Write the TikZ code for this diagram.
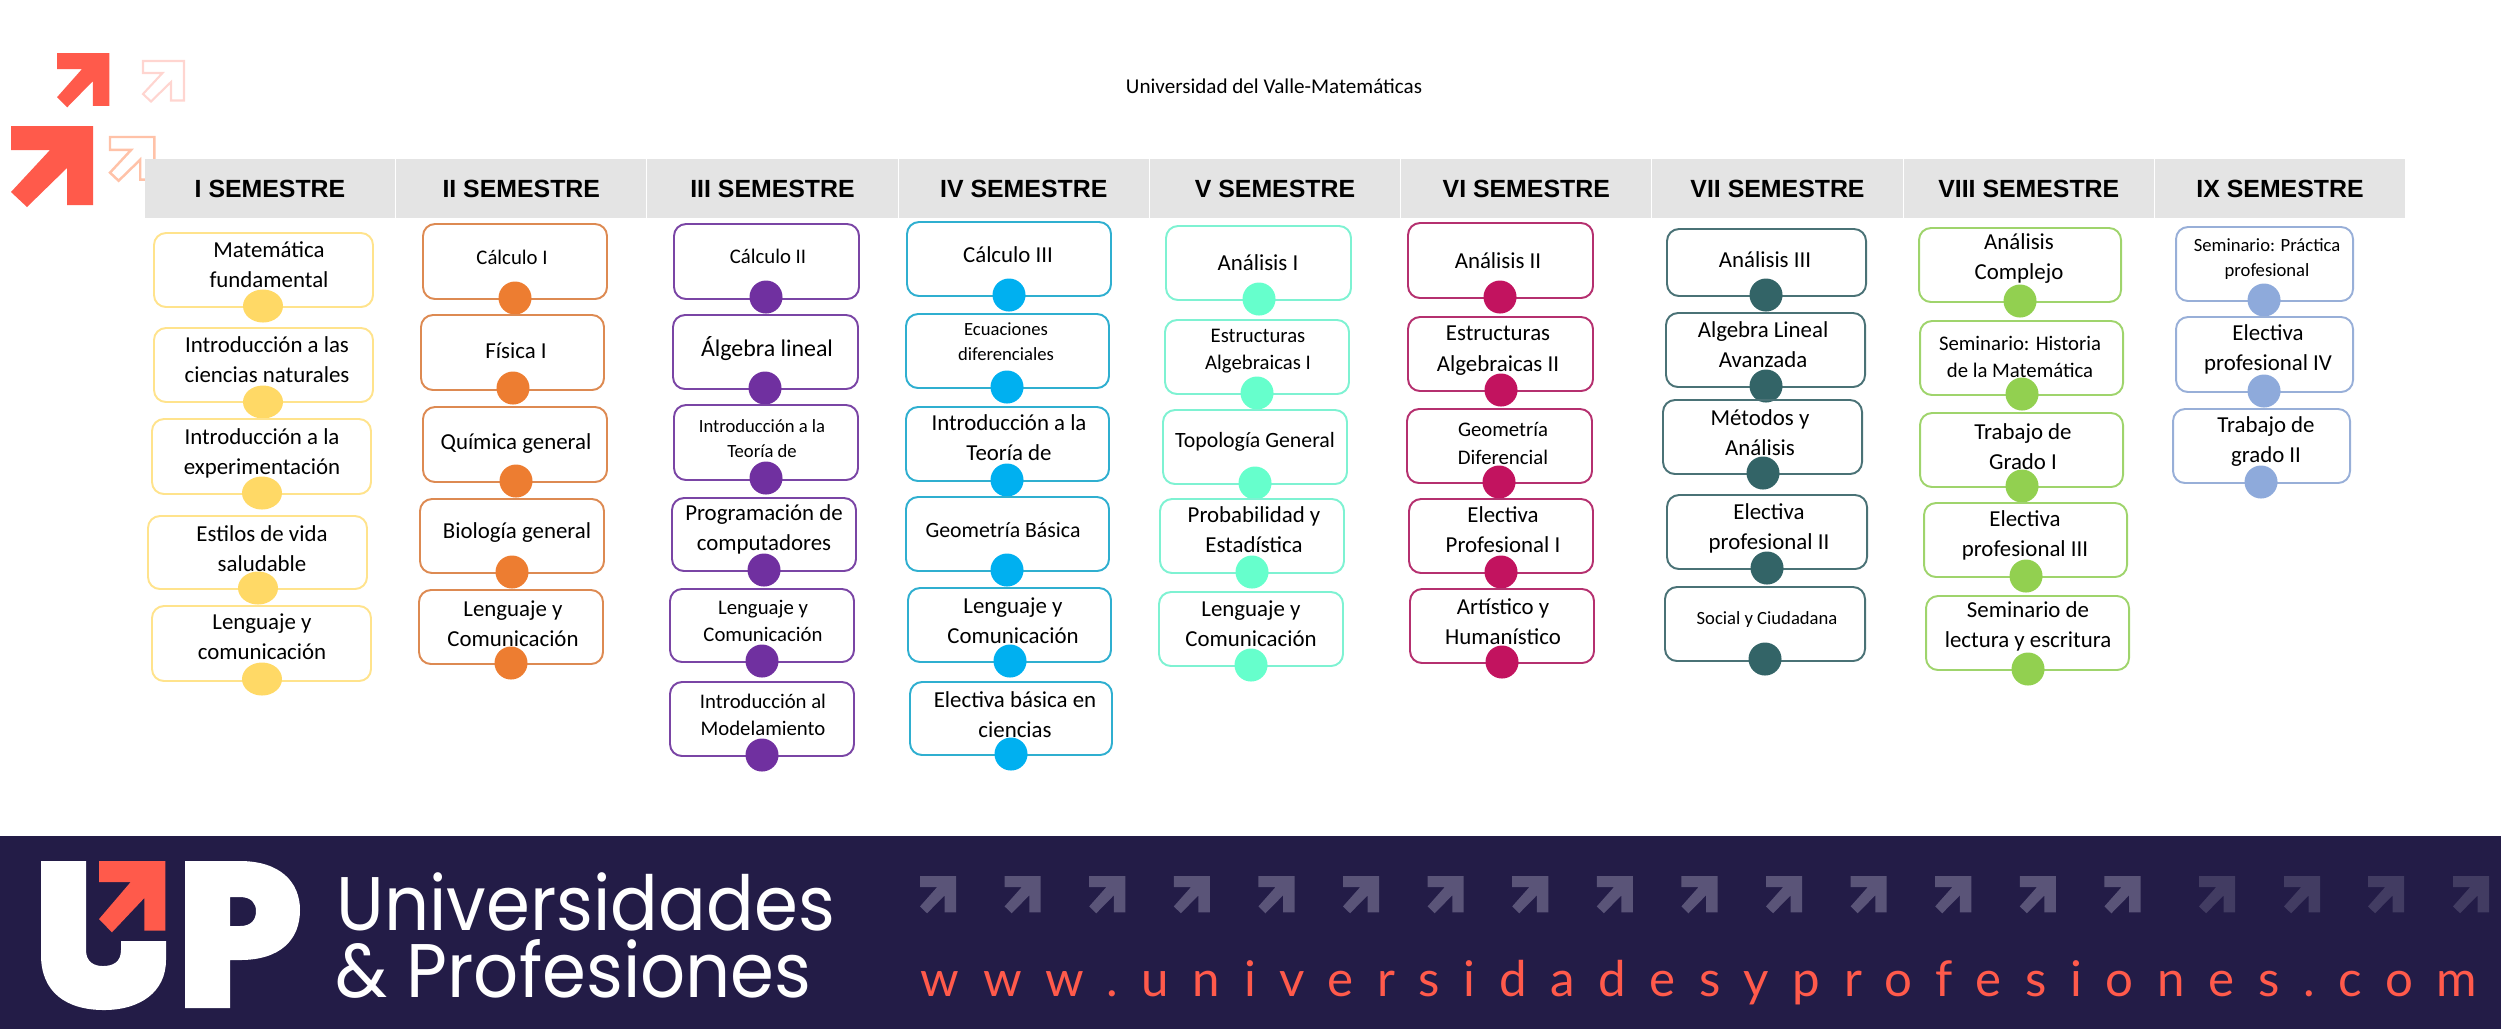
\documentclass[tikz,border=0pt]{standalone}
\usepackage{fontspec}
\setmainfont{Carlito}
\newfontfamily\arialfont{Liberation Sans}
\newfontfamily\logofont{Poppins}
\newfontfamily\webfont[LetterSpace=48]{Lato}
\usetikzlibrary{shapes.geometric}

\definecolor{upnavy}{HTML}{231C47}
\definecolor{upcoral}{HTML}{FF5A4B}
\definecolor{flechaclara}{HTML}{5A5478}
\definecolor{flechaoscura}{HTML}{423C62}
\definecolor{cabecera}{HTML}{E4E4E4}
\definecolor{rosado}{HTML}{FFD5D0}
\definecolor{salmon}{HTML}{FFC2A8}
\definecolor{amarillo}{HTML}{FFD966}
\definecolor{amarillob}{HTML}{FFE38C}
\definecolor{naranja}{HTML}{ED7D31}
\definecolor{naranjab}{HTML}{DD8A52}
\definecolor{morado}{HTML}{7030A0}
\definecolor{moradob}{HTML}{7A45A5}
\definecolor{celeste}{HTML}{00B0F0}
\definecolor{celesteb}{HTML}{2FAFD0}
\definecolor{menta}{HTML}{66FFCC}
\definecolor{mentab}{HTML}{7EF2D2}
\definecolor{fucsia}{HTML}{C2135F}
\definecolor{fucsiab}{HTML}{B5306F}
\definecolor{petroleo}{HTML}{336467}
\definecolor{petroleob}{HTML}{4A7276}
\definecolor{verde}{HTML}{92D050}
\definecolor{verdeb}{HTML}{9FD46C}
\definecolor{azul}{HTML}{8EAADB}
\definecolor{azulb}{HTML}{98AFD8}

\tikzset{
	caja/.style={rectangle,rounded corners=3.4pt,line width=0.55pt,inner sep=0pt,outer sep=0pt},
	punto/.style={ellipse,inner sep=0pt,outer sep=0pt,minimum height=0.33cm},
	txtg/.style={align=center,inner sep=0pt,yshift=-0.015cm,font=\fontsize{6.5}{8.7}\selectfont},
	txtm/.style={align=center,inner sep=0pt,yshift=-0.015cm,font=\fontsize{5.9}{7.7}\selectfont},
	txts/.style={align=center,inner sep=0pt,yshift=-0.015cm,font=\fontsize{5.3}{7.1}\selectfont},
	txta/.style={align=center,inner sep=0pt,yshift=-0.015cm,font=\fontsize{6.8}{8.7}\selectfont},
	txtb/.style={align=center,inner sep=0pt,yshift=-0.015cm,font=\fontsize{6.2}{8}\selectfont},
	semestre/.style={fill=cabecera,inner sep=0pt,minimum width=2.5cm,minimum height=0.59cm,
		font=\arialfont\bfseries\fontsize{7.07}{8.5}\selectfont},
	logotxt/.style={anchor=base west,inner sep=0pt,white,xscale=0.93,font=\logofont\fontsize{21.6}{24}\selectfont},
	flecha/.pic={\path[pic actions] (0,0) -- (82,0) -- (82,79) -- (56,79) -- (56,42) -- (16,81) -- (0,66) -- (39,24) -- (0,24) -- cycle;}
}

% name, colour, dot width, list of courses
\newcommand*{\materias}[4]{
	\foreach \n/\xa/\ya/\xb/\yb/\dx/\dy/\tx/\ty/\fs/\txt in {#4} {
		\node[caja,draw=#2b,minimum width={(\xb-\xa)*0.01cm},minimum height={(\yb-\ya)*0.01cm}] (#1c\n) at ({(\xa+\xb)/2},{(\ya+\yb)/2}) {};
		\node[\fs] (#1t\n) at (\tx,\ty) {\txt};
		\node[punto,fill=#2,minimum width=#3] (#1p\n) at (\dx,\dy) {};
	}
}

\begin{document}
\begin{tikzpicture}[x=0.01cm,y=-0.01cm]

	\useasboundingbox (0,0) rectangle (2501,1029);

	% corner arrows
	\pic[fill=upcoral] at (11,126) {flecha};
	\pic[fill=upcoral,xscale=0.64,yscale=0.67] at (57,53) {flecha};
	\pic[draw=rosado,line width=0.6pt,scale=0.5] at (143,61) {flecha};
	\pic[draw=salmon,line width=0.7pt,scale=0.54] at (110,137) {flecha};

	\node[font=\fontsize{6}{8}\selectfont] (titulo) at (1274,86) {Universidad del Valle-Matemáticas};

	% header row
	\foreach \i/\lab in {0/I,1/II,2/III,3/IV,4/V,5/VI,6/VII,7/VIII,8/IX}
		\node[semestre] (sem\i) at ({270+251.25*\i},188.5) {\lab{} SEMESTRE};

	% I
	\materias{a}{amarillo}{0.4cm}{
		1/154/233/373/307/263/306/269/263/txtg/{Matemática\\fundamental},
		2/154/328/373/402/263/402/267/358/txtg/{Introducción a las\\ciencias naturales},
		3/152/419/371/494/262/493/262/452/txtg/{Introducción a la\\experimentación},
		4/148/516/367/589/258/588/262/547/txtg/{Estilos de vida\\saludable},
		5/152/606/371/681/262/679/262/635/txtg/{Lenguaje y\\comunicación}}

	% II
	\materias{b}{naranja}{0.33cm}{
		1/423/224/607/299/515/298/512/256/txtm/{Cálculo I},
		2/421/315/604/390/513/388/516/349/txtg/{Física I},
		3/423/407/607/482/516/481/516/442/txtg/{Química general},
		4/420/499/604/573/512/572/517/531/txtg/{Biología general},
		5/419/590/603/664/511/663/513/622/txtg/{Lenguaje y\\Comunicación}}

	% III
	\materias{c}{morado}{0.33cm}{
		1/674/224/859/299/766/297/768/255/txtm/{Cálculo II},
		2/673/315/858/389/765/388/767/347/txta/{Álgebra lineal},
		3/674/405/858/480/766/478/762/437/txts/{Introducción a la\\Teoría de},
		4/672/498/856/571/764/570/764/528/txtg/{Programación de\\computadores},
		5/670/589/854/662/762/661/763/619/txtm/{Lenguaje y\\Comunicación},
		6/670/682/854/756/762/755/763/713/txtm/{Introducción al\\Modelamiento}}

	% IV
	\materias{d}{celeste}{0.33cm}{
		1/907/222/1111/296/1009/295/1008/253/txtg/{Cálculo III},
		2/906/314/1109/388/1007/387/1006/340/txts/{Ecuaciones\\diferenciales},
		3/906/407/1109/481/1007/480/1009/436/txtg/{Introducción a la\\Teoría de},
		4/906/497/1109/571/1007/570/1003/529/txtb/{Geometría Básica},
		5/908/588/1111/662/1010/661/1013/619/txtg/{Lenguaje y\\Comunicación},
		6/910/682/1112/755/1011/754/1015/713/txtg/{Electiva básica en\\ciencias}}

	% V
	\materias{e}{menta}{0.33cm}{
		1/1166/226/1351/300/1259/299/1258/261/txtg/{Análisis I},
		2/1165/320/1349/394/1257/393/1258/350/txtm/{Estructuras\\Algebraicas I},
		3/1163/410/1347/484/1255/483/1255/440/txtb/{Topología General},
		4/1160/499/1344/573/1252/572/1254/528/txtg/{Probabilidad y\\Estadística},
		5/1159/592/1343/666/1251/665/1251/622/txtg/{Lenguaje y\\Comunicación}}

	% VI
	\materias{f}{fucsia}{0.33cm}{
		1/1408/223/1593/298/1500/297/1498/259/txtg/{Análisis II},
		2/1408/317/1593/391/1501/390/1498/349/txtg/{Estructuras\\Algebraicas II},
		3/1407/409/1592/483/1499/482/1503/442/txtm/{Geometría\\Diferencial},
		4/1409/499/1593/573/1501/572/1503/528/txtg/{Electiva\\Profesional I},
		5/1410/589/1594/663/1502/662/1503/620/txtg/{Artístico y\\Humanístico}}

	% VII
	\materias{g}{petroleo}{0.33cm}{
		1/1667/229/1866/296/1766/295/1765/258/txtg/{Análisis III},
		2/1666/313/1865/387/1766/386/1763/343/txtg/{Algebra Lineal\\Avanzada},
		3/1663/400/1862/474/1763/473/1760/431/txtg/{Métodos y\\Análisis},
		4/1667/495/1867/569/1767/568/1769/527/txtg/{Electiva\\profesional II},
		5/1665/587/1865/661/1765/659/1767/618/txts/{Social y Ciudadana}}

	% VIII
	\materias{h}{verde}{0.33cm}{
		1/1919/228/2121/302/2020/301/2019/257/txtg/{Análisis\\Complejo},
		2/1920/321/2123/395/2022/394/2020/355/txtm/{Seminario: Historia\\de la Matemática},
		3/1920/413/2123/487/2022/486/2023/445/txtg/{Trabajo de\\Grado I},
		4/1924/503/2127/577/2026/576/2025/534/txtg/{Electiva\\profesional III},
		5/1926/596/2129/670/2028/669/2028/625/txtg/{Seminario de\\lectura y escritura}}

	% IX
	\materias{i}{azul}{0.33cm}{
		1/2176/227/2353/301/2264/300/2267/258/txts/{Seminario: Práctica\\profesional},
		2/2176/317/2353/392/2264/391/2268/348/txtg/{Electiva\\profesional IV},
		3/2173/409/2350/483/2261/482/2266/440/txtg/{Trabajo de\\grado II}}

	% banner
	\fill[upnavy] (0,836) rectangle (2501,1029);

	\fill[white] (41,861) -- (86,861) -- (86,950) .. controls (86,962) and (94,966) .. (103,966)
		.. controls (113,966) and (121,962) .. (121,950) -- (121,941) -- (166,941) -- (166,960)
		.. controls (166,992) and (140,1010) .. (104,1010) .. controls (66,1010) and (41,992) .. (41,955) -- cycle;
	\fill[white,even odd rule] (185,861) -- (240,861) .. controls (280,861) and (300,882) .. (300,910)
		.. controls (300,940) and (280,960) .. (240,960) -- (230,960) -- (230,1008) -- (185,1008) -- cycle
		(230,897) -- (240,897) .. controls (251,897) and (256,903) .. (256,911)
		.. controls (256,920) and (251,926) .. (240,926) -- (230,926) -- cycle;
	\pic[fill=upcoral,xscale=0.81,yscale=0.88] at (99,861) {flecha};

	\node[logotxt] (uni) at (336,930) {Universidades};
	\node[logotxt] (pro) at (335,997) {\&\ Profesiones};

	\foreach \k in {0,...,14}
		\pic[fill=flechaclara,xscale=0.44,yscale=0.46] at ({920+84.6*\k},876) {flecha};
	\foreach \xf in {2199,2284,2368,2453}
		\pic[fill=flechaoscura,xscale=0.44,yscale=0.46] at (\xf,876) {flecha};

	\node[anchor=base west,inner sep=0pt,upcoral,font=\webfont\fontsize{14}{16}\selectfont] (web) at (920,996) {www.universidadesyprofesiones.com};

\end{tikzpicture}
\end{document}
